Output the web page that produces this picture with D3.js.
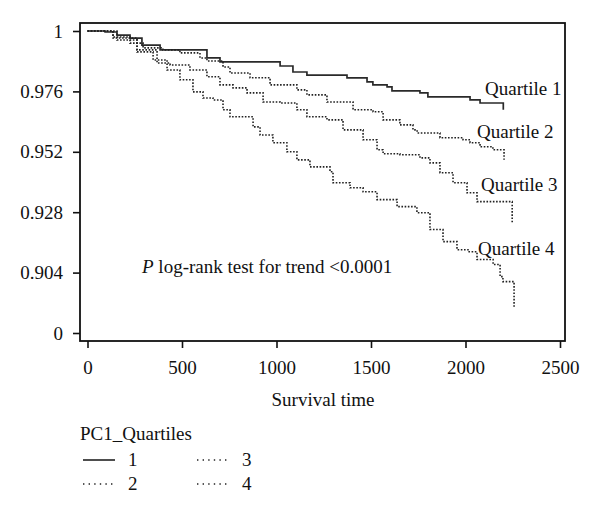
<!DOCTYPE html>
<html>
<head>
<meta charset="utf-8">
<script src="https://cdnjs.cloudflare.com/ajax/libs/d3/7.8.5/d3.min.js"></script>
<style>
	body { margin: 0; background: #fff; }
	text { font-family: 'Liberation Serif', 'DejaVu Serif', serif; fill: #111; }
</style>
</head>
<body>
<div id="chart"></div>
<script>
//DATA
var q1Time = [0, 93, 156, 225, 288, 384, 632, 701, 1019, 1087, 1161, 1373, 1479, 1510, 1585, 1611, 1759, 1801, 2024, 2077, 2200];
var q1Surv = [1, 0.9996, 0.9984, 0.9972, 0.9944, 0.9925, 0.9893, 0.9877, 0.9861, 0.9837, 0.9825, 0.9814, 0.9798, 0.9786, 0.9778, 0.9762, 0.9754, 0.9738, 0.9726, 0.9714, 0.9687];

var q2Time = [0, 135, 225, 294, 399, 489, 595, 632, 717, 754, 860, 966, 1108, 1161, 1267, 1405, 1511, 1564, 1653, 1722, 1744, 1865, 1987, 2024, 2077, 2145, 2204];
var q2Surv = [1, 0.9976, 0.9952, 0.9933, 0.9925, 0.9913, 0.9893, 0.9881, 0.9857, 0.9833, 0.9814, 0.9786, 0.9766, 0.9746, 0.9718, 0.9687, 0.9679, 0.9647, 0.9627, 0.9607, 0.9595, 0.9576, 0.9568, 0.9556, 0.9540, 0.9528, 0.9488];

var q3Time = [0, 156, 262, 368, 437, 542, 632, 701, 770, 844, 929, 1019, 1108, 1161, 1267, 1352, 1458, 1532, 1564, 1653, 1759, 1812, 1865, 1934, 2008, 2061, 2247];
var q3Surv = [1, 0.9964, 0.9925, 0.9873, 0.9865, 0.9845, 0.9818, 0.9786, 0.9774, 0.9754, 0.9718, 0.9714, 0.9687, 0.9659, 0.9647, 0.9607, 0.9568, 0.9528, 0.9512, 0.9508, 0.9496, 0.9476, 0.9437, 0.9397, 0.9357, 0.9322, 0.9238];

var q4Time = [0, 135, 262, 347, 421, 489, 558, 611, 664, 717, 754, 876, 913, 981, 1055, 1108, 1177, 1283, 1299, 1389, 1458, 1532, 1638, 1743, 1812, 1881, 1955, 2013, 2061, 2146, 2183, 2198, 2257];
var q4Surv = [1, 0.9972, 0.9917, 0.9885, 0.9845, 0.9806, 0.9758, 0.9734, 0.9726, 0.9687, 0.9659, 0.9619, 0.9587, 0.9556, 0.9520, 0.9488, 0.9460, 0.9441, 0.9397, 0.9377, 0.9361, 0.9330, 0.9302, 0.9278, 0.9211, 0.9163, 0.9131, 0.9123, 0.9092, 0.9072, 0.9024, 0.9004, 0.8901];

var quartileNames = ['Quartile 1', 'Quartile 2', 'Quartile 3', 'Quartile 4'];
var legendKeys = ['1', '2', '3', '4'];

var xTicks = [0, 500, 1000, 1500, 2000, 2500];
var yTicks = [0.88, 0.904, 0.928, 0.952, 0.976, 1];
var yTickLabels = ['0', '0.904', '0.928', '0.952', '0.976', '1'];

var series = [
	{ name: quartileNames[0], time: q1Time, surv: q1Surv, dash: null },
	{ name: quartileNames[1], time: q2Time, surv: q2Surv, dash: '1.6,1.6' },
	{ name: quartileNames[2], time: q3Time, surv: q3Surv, dash: '1.6,1.6' },
	{ name: quartileNames[3], time: q4Time, surv: q4Surv, dash: '1.6,1.6' }
];

//SVG
var svg = d3.select('#chart')
	.append('svg')
	.attr('width', 600)
	.attr('height', 516);

//SCALES
var x = d3.scaleLinear().domain([0, 2500]).range([87.5, 560]);
var y = d3.scaleLinear().domain([0.88, 1]).range([333, 31]);

var frame = { left: 80, right: 565, top: 23, bottom: 341 };

//AXES
var xAxis = svg.append('g')
	.attr('transform', 'translate(0,' + frame.bottom + ')')
	.call(d3.axisBottom(x).tickValues(xTicks).tickFormat(d3.format('d')).tickSize(7).tickPadding(13));

var yAxis = svg.append('g')
	.attr('transform', 'translate(' + frame.left + ',0)')
	.call(d3.axisLeft(y).tickValues(yTicks).tickFormat(function(d, i) { return yTickLabels[i]; }).tickSize(7).tickPadding(10));

[xAxis, yAxis].forEach(function(a) {
	a.select('.domain').remove();
	a.selectAll('line').attr('stroke', '#111').attr('stroke-width', 1.6);
	a.selectAll('text')
		.attr('font-family', "'Liberation Serif', serif")
		.attr('font-size', 19)
		.attr('fill', '#111');
});

//frame
svg.append('rect')
	.attr('x', frame.left)
	.attr('y', frame.top)
	.attr('width', frame.right - frame.left)
	.attr('height', frame.bottom - frame.top)
	.attr('fill', 'none')
	.attr('stroke', '#111')
	.attr('stroke-width', 1.8);

//CURVES
var line = d3.line()
	.x(function(d) { return x(d[0]); })
	.y(function(d) { return y(d[1]); })
	.curve(d3.curveStepAfter);

svg.append('g')
	.selectAll('path')
	.data(series)
	.enter()
	.append('path')
	.attr('d', function(s) { return line(d3.zip(s.time, s.surv)); })
	.attr('fill', 'none')
	.attr('stroke', function(s) { return s.dash ? '#222' : '#2a2a2a'; })
	.attr('stroke-width', function(s) { return s.dash ? 1.6 : 1.7; })
	.attr('stroke-dasharray', function(s) { return s.dash; });

//curve labels
var labelPos = [[485, 95], [477, 138], [481, 191], [478, 255]];
svg.append('g')
	.selectAll('text')
	.data(series)
	.enter()
	.append('text')
	.attr('x', function(d, i) { return labelPos[i][0]; })
	.attr('y', function(d, i) { return labelPos[i][1]; })
	.attr('font-size', 19)
	.text(function(d) { return d.name; });

//p value note
var note = svg.append('text')
	.attr('x', 142)
	.attr('y', 273)
	.attr('font-size', 19);
note.append('tspan').attr('font-style', 'italic').text('P');
note.append('tspan').text(' log-rank test for trend <0.0001');

//axis title
svg.append('text')
	.attr('x', 323)
	.attr('y', 406)
	.attr('text-anchor', 'middle')
	.attr('font-size', 19)
	.text('Survival time');

//LEGEND
svg.append('text')
	.attr('x', 80)
	.attr('y', 440)
	.attr('font-size', 19)
	.text('PC1_Quartiles');

var legendPos = [[83, 460], [83, 484], [197, 460], [197, 484]];
var legend = svg.append('g')
	.selectAll('g')
	.data(series)
	.enter()
	.append('g')
	.attr('transform', function(d, i) { return 'translate(' + legendPos[i][0] + ',' + legendPos[i][1] + ')'; });

legend.append('line')
	.attr('x1', 0)
	.attr('x2', 32)
	.attr('stroke', '#222')
	.attr('stroke-width', function(d) { return d.dash ? 1.4 : 1.6; })
	.attr('stroke-dasharray', function(d) { return d.dash ? '1.4,4.2' : null; });

legend.append('text')
	.attr('x', 45)
	.attr('y', 6)
	.attr('font-size', 19)
	.text(function(d, i) { return legendKeys[i]; });
</script>
</body>
</html>
